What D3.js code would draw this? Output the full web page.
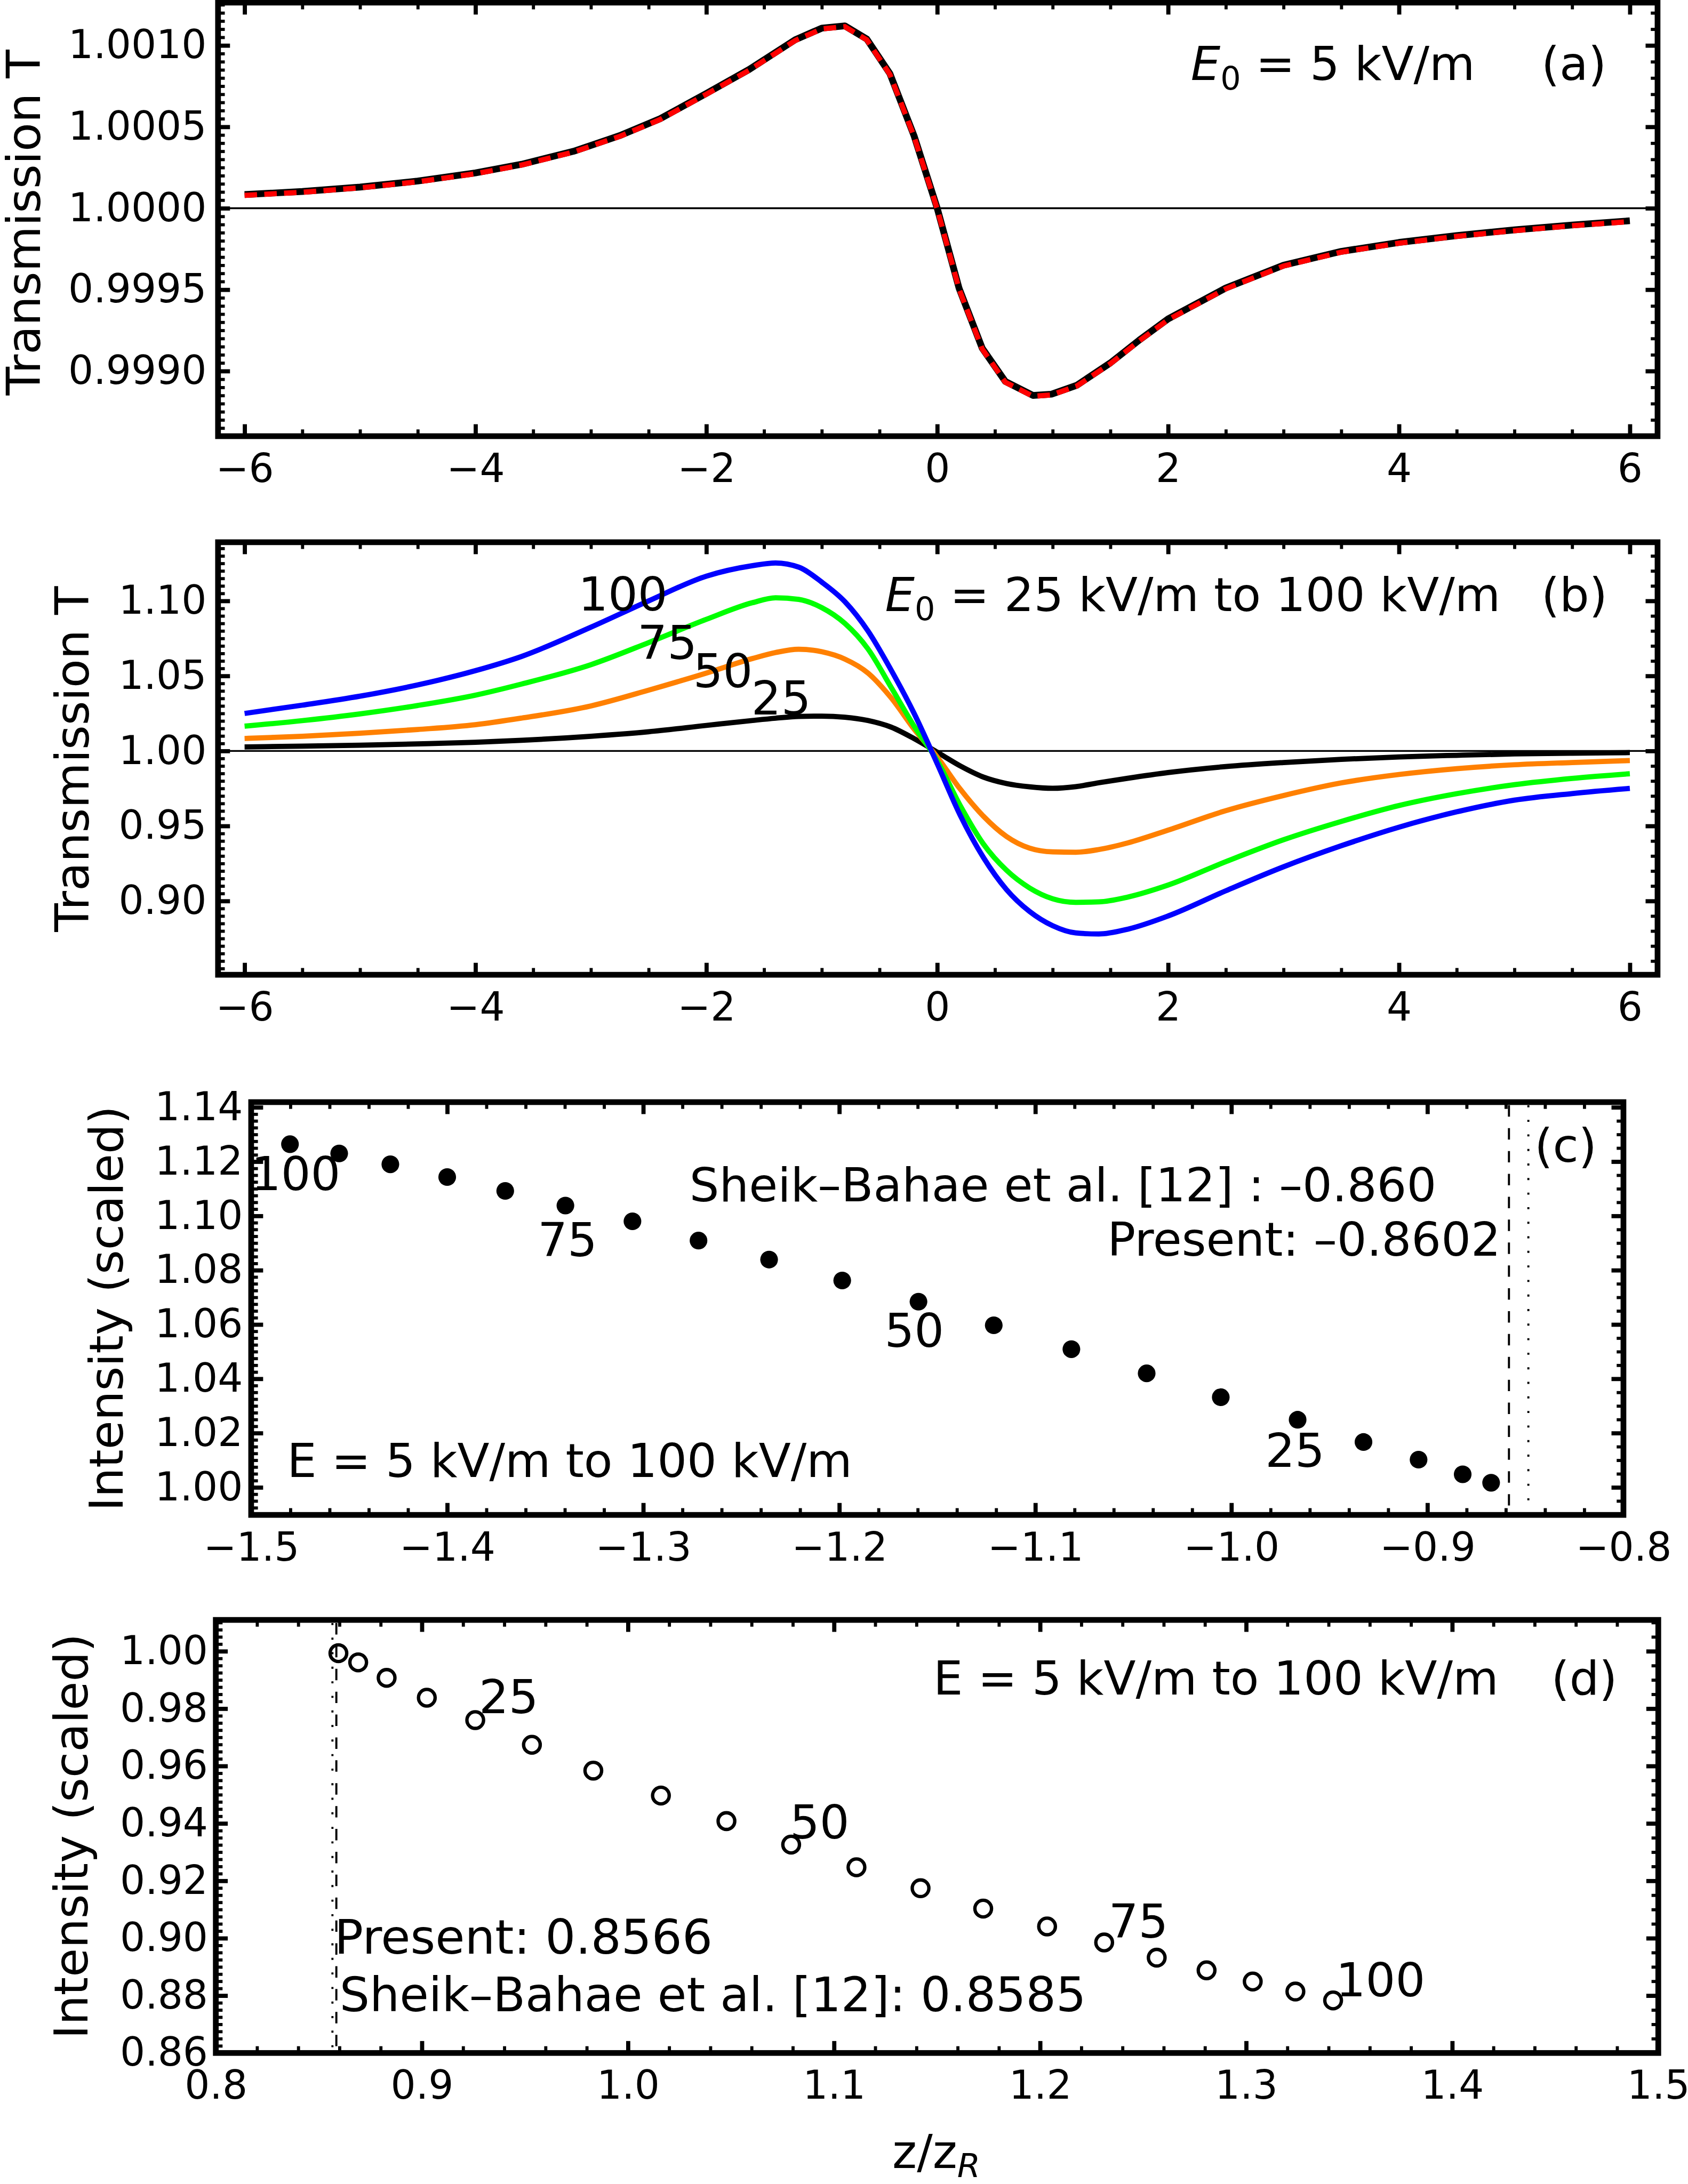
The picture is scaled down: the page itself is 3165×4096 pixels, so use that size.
<!DOCTYPE html>
<html>
<head>
<meta charset="utf-8">
<script src="https://cdn.jsdelivr.net/npm/d3@7"></script>
<style>
  body { margin: 0; background: #fff; }
  svg { display: block; }
  text { font-family: "DejaVu Sans", sans-serif; fill: #000; }
</style>
</head>
<body>
<div id="chart"></div>
<script>
// ---- data ----
// (a) E0 = 5 kV/m
var zA = [-6, -5.5, -5, -4.5, -4, -3.6, -3.15, -2.75, -2.4, -2, -1.63, -1.23, -1, -0.8, -0.61, -0.41, -0.2, 0,
          0.19, 0.39, 0.59, 0.83, 0.99, 1.21, 1.5, 1.75, 2, 2.5, 3, 3.5, 4, 4.5, 5, 5.5, 6];
var tA = [1.000084, 1.000103, 1.00013, 1.000167, 1.000217, 1.00027, 1.00035, 1.000446, 1.00055, 1.000705,
          1.000852, 1.001035, 1.001106, 1.00112, 1.001039, 1.000827, 1.000444, 1.0,
          0.999507, 0.99914, 0.998936, 0.99885, 0.998858, 0.998913, 0.99905, 0.99919, 0.99932, 0.99951,
          0.99965, 0.999735, 0.99979, 0.999832, 0.999867, 0.999897, 0.999923];

// (b) E0 = 25 .. 100 kV/m
var zB = [-6, -5.5, -5, -4.5, -4, -3.6, -3, -2.5, -2, -1.6, -1.4, -1.2, -1, -0.8, -0.6, -0.4, -0.2, 0,
          0.2, 0.4, 0.6, 0.8, 1, 1.2, 1.4, 1.65, 2, 2.5, 3, 3.5, 4, 4.5, 5, 5.5, 6];
var tB25 = [1.0027, 1.0032, 1.0038, 1.0047, 1.0058, 1.0071, 1.0098, 1.0128, 1.017, 1.0203, 1.0218, 1.023, 1.0232,
            1.0225, 1.0203, 1.0159, 1.0082, 0.9992, 0.99, 0.9826, 0.9783, 0.9761, 0.9751, 0.9762, 0.9788, 0.9818,
            0.9856, 0.9896, 0.9923, 0.9944, 0.996, 0.9971, 0.998, 0.9985, 0.9989];
var tB50 = [1.0083, 1.0098, 1.0118, 1.0143, 1.0175, 1.0219, 1.03, 1.0405, 1.0519, 1.0616, 1.0656, 1.0678, 1.0661,
            1.0612, 1.0519, 1.0355, 1.0145, 0.996, 0.9745, 0.9565, 0.943, 0.9352, 0.9327, 0.9325, 0.9343, 0.9387,
            0.9472, 0.9602, 0.9703, 0.9787, 0.9843, 0.9882, 0.9908, 0.9923, 0.9936];
var tB75 = [1.0165, 1.0202, 1.0247, 1.0303, 1.0372, 1.0446, 1.0575, 1.0722, 1.0877, 1.0988, 1.1021, 1.101, 1.0955,
            1.085, 1.068, 1.0425, 1.0165, 0.9935, 0.9635, 0.938, 0.9205, 0.9087, 0.9015, 0.8991, 0.8994, 0.9026,
            0.9106, 0.9262, 0.9408, 0.953, 0.9636, 0.9715, 0.9775, 0.9817, 0.9848];
var tB100 = [1.025, 1.0305, 1.0365, 1.044, 1.0535, 1.063, 1.0825, 1.1, 1.1165, 1.1235, 1.1253, 1.1225, 1.1125,
             1.0995, 1.08, 1.054, 1.025, 0.9915, 0.957, 0.929, 0.9076, 0.893, 0.8835, 0.8787, 0.878, 0.8812,
             0.89, 0.9068, 0.9228, 0.9368, 0.9492, 0.9594, 0.9672, 0.9716, 0.975];
var seriesB = ["25", "50", "75", "100"];
var colorsB = ["#000000", "#ff8000", "#00ff00", "#0000ff"];

// (c) peak positions
var zC = [-1.4802, -1.4551, -1.429, -1.4, -1.3704, -1.3397, -1.3055, -1.2718, -1.2358, -1.1985,
          -1.1596, -1.1212, -1.0816, -1.0432, -1.0054, -0.9662, -0.9326, -0.9045, -0.882, -0.8675];
var iC = [1.1264, 1.123, 1.119, 1.1143, 1.1092, 1.1038, 1.098, 1.0909, 1.0839, 1.0762,
          1.0684, 1.0597, 1.0509, 1.042, 1.0332, 1.0249, 1.0167, 1.0102, 1.0048, 1.0017];
var refC = [-0.8584, -0.8485];   // dashed, dotted

// (d) valley positions
var zD = [0.8595, 0.8691, 0.8829, 0.9024, 0.9259, 0.9534, 0.9832, 1.016, 1.0478, 1.0792,
          1.1109, 1.142, 1.1724, 1.2034, 1.2311, 1.2566, 1.2808, 1.3032, 1.3239, 1.3422];
var iD = [0.9993, 0.9961, 0.9907, 0.9838, 0.976, 0.9674, 0.9584, 0.9497, 0.9408, 0.9326,
          0.9247, 0.9174, 0.9103, 0.9041, 0.8985, 0.8932, 0.8888, 0.8849, 0.8814, 0.8783];
var refD = [0.8585, 0.8566];     // dashed, dotted

// tick labels
var xTicksAB = [-6, -4, -2, 0, 2, 4, 6];
var yTicksA = [0.999, 0.9995, 1.0, 1.0005, 1.001];
var yTicksB = [0.9, 0.95, 1.0, 1.05, 1.1];
var xTicksC = [-1.5, -1.4, -1.3, -1.2, -1.1, -1.0, -0.9, -0.8];
var yTicksC = [1.0, 1.02, 1.04, 1.06, 1.08, 1.1, 1.12, 1.14];
var xTicksD = [0.8, 0.9, 1.0, 1.1, 1.2, 1.3, 1.4, 1.5];
var yTicksD = [0.86, 0.88, 0.9, 0.92, 0.94, 0.96, 0.98, 1.0];

// ---- page ----
var W = 3245, H = 4200, K = 0.975;
var tickFont = 76, titleFont = 90, noteFont = 90;

var svg = d3.select("#chart")
    .append("svg")
    .attr("width", W * K)
    .attr("height", H * K)
    .attr("viewBox", "0 0 " + W + " " + H);

function minorTicks(domain, step) {
    var lo = Math.ceil(Math.min(domain[0], domain[1]) / step - 1e-6),
        hi = Math.floor(Math.max(domain[0], domain[1]) / step + 1e-6);
    return d3.range(lo, hi + 1).map(function (i) { return i * step; });
}

function styleAxis(sel) {
    sel.select(".domain").remove();
    sel.attr("font-size", tickFont).attr("font-family", "DejaVu Sans, sans-serif");
    sel.selectAll(".tick line").attr("stroke", "#000");
}

function drawPanel(p) {
    var x = d3.scaleLinear().domain(p.xDomain).range([p.left, p.right]);
    var y = d3.scaleLinear().domain(p.yDomain).range([p.bottom, p.top]);
    var g = svg.append("g");
    var blank = function () { return ""; };
    var sides = [
        { axis: d3.axisBottom, s: x, at: "translate(0," + p.bottom + ")", major: p.xTicks,
          minor: minorTicks(p.xDomain, p.xMinor), fmt: d3.format(p.xFmt), pad: 34 },
        { axis: d3.axisTop, s: x, at: "translate(0," + p.top + ")", major: p.xTicks,
          minor: minorTicks(p.xDomain, p.xMinor), fmt: blank, pad: 0 },
        { axis: d3.axisLeft, s: y, at: "translate(" + p.left + ",0)", major: p.yTicks,
          minor: minorTicks(p.yDomain, p.yMinorL), fmt: d3.format(p.yFmt), pad: p.yPad },
        { axis: d3.axisRight, s: y, at: "translate(" + p.right + ",0)", major: p.yTicks,
          minor: minorTicks(p.yDomain, p.yMinorR), fmt: blank, pad: 0 }
    ];
    sides.forEach(function (sd) {
        g.append("g").attr("transform", sd.at)
            .call(sd.axis(sd.s).tickValues(sd.minor).tickSize(-13).tickFormat(blank))
            .call(styleAxis)
            .selectAll("line").attr("stroke-width", 6);
        g.append("g").attr("transform", sd.at)
            .call(sd.axis(sd.s).tickValues(sd.major).tickSize(-23).tickPadding(sd.pad).tickFormat(sd.fmt))
            .call(styleAxis)
            .selectAll("line").attr("stroke-width", 8);
    });
    g.append("rect")
        .attr("x", p.left).attr("y", p.top)
        .attr("width", p.right - p.left).attr("height", p.bottom - p.top)
        .attr("fill", "none").attr("stroke", "#000").attr("stroke-width", 11);
    // y title
    g.append("text")
        .attr("transform", "translate(" + p.titleX + "," + p.titleY + ") rotate(-90)")
        .attr("text-anchor", "middle")
        .attr("font-size", titleFont)
        .text(p.title);
    return { g: g, x: x, y: y, p: p };
}

function note(g, x, y, str, size, anchor) {
    return g.append("text").attr("x", x).attr("y", y)
        .attr("font-size", size || noteFont)
        .attr("text-anchor", anchor || "start")
        .text(str);
}

function e0Note(g, x, y, rest) {
    var t = g.append("text").attr("x", x).attr("y", y).attr("font-size", noteFont);
    t.append("tspan").attr("font-style", "italic").text("E");
    t.append("tspan").attr("font-size", 62).attr("dy", 18).text("0");
    t.append("tspan").attr("dy", -18).text(rest);
}

function zeroLine(P) {
    P.g.insert("line", "rect")
        .attr("x1", P.p.left).attr("x2", P.p.right)
        .attr("y1", P.y(1)).attr("y2", P.y(1))
        .attr("stroke", "#000").attr("stroke-width", 3.5);
}

function refLines(P, vals) {
    var styles = ["22,22", "4,24"];
    vals.forEach(function (v, i) {
        P.g.insert("line", "rect")
            .attr("x1", P.x(v)).attr("x2", P.x(v))
            .attr("y1", P.p.top + 6).attr("y2", P.p.bottom - 6)
            .attr("stroke", "#000").attr("stroke-width", 4)
            .attr("stroke-dasharray", styles[i]);
    });
}

// ---- (a) ----
var A = drawPanel({
    left: 419.3, right: 3187.6, top: 5, bottom: 839,
    xDomain: [-6.23, 6.24], yDomain: [0.9986, 1.001263],
    xTicks: xTicksAB, xMinor: 0.5, xFmt: "d",
    yTicks: yTicksA, yMinorL: 0.00005, yMinorR: 0.0001, yFmt: ".4f", yPad: 22,
    title: "Transmission T", titleX: 77, titleY: 428
});
zeroLine(A);
var lineA = d3.line()
    .x(function (d) { return A.x(d[0]); })
    .y(function (d) { return A.y(d[1]); });
var ptsA = zA.map(function (z, i) { return [z, tA[i]]; });
A.g.insert("path", "rect").datum(ptsA)
    .attr("fill", "none").attr("stroke", "#000").attr("stroke-width", 13)
    .attr("stroke-linejoin", "round").attr("d", lineA);
A.g.insert("path", "rect").datum(ptsA)
    .attr("fill", "none").attr("stroke", "#ff0000").attr("stroke-width", 10)
    .attr("stroke-dasharray", "24,14").attr("transform", "translate(0,1.5)").attr("d", lineA);
e0Note(A.g, 2290, 154, " = 5 kV/m");
note(A.g, 2964, 154, "(a)");

// ---- (b) ----
var B = drawPanel({
    left: 419.3, right: 3187.6, top: 1043, bottom: 1875,
    xDomain: [-6.23, 6.24], yDomain: [0.85083, 1.1391],
    xTicks: xTicksAB, xMinor: 0.5, xFmt: "d",
    yTicks: yTicksB, yMinorL: 0.005, yMinorR: 0.01, yFmt: ".2f", yPad: 22,
    title: "Transmission T", titleX: 170, titleY: 1460
});
zeroLine(B);
var lineB = d3.line()
    .x(function (d) { return B.x(d[0]); })
    .y(function (d) { return B.y(d[1]); })
    .curve(d3.curveMonotoneX);
[tB25, tB50, tB75, tB100].forEach(function (vals, k) {
    B.g.insert("path", "rect")
        .datum(zB.map(function (z, i) { return [z, vals[i]]; }))
        .attr("fill", "none").attr("stroke", colorsB[k]).attr("stroke-width", 10)
        .attr("stroke-linejoin", "round").attr("d", lineB);
});
var labPosB = [[1445, 1374], [1333, 1322], [1226, 1268], [1112, 1174]];
seriesB.forEach(function (s, k) { note(B.g, labPosB[k][0], labPosB[k][1], s, titleFont); });
e0Note(B.g, 1702, 1175, " = 25 kV/m to 100 kV/m");
note(B.g, 2964, 1175, "(b)");

// ---- (c) ----
var C = drawPanel({
    left: 483, right: 3122, top: 2120, bottom: 2914,
    xDomain: [-1.5, -0.8], yDomain: [0.98985, 1.1419],
    xTicks: xTicksC, xMinor: 0.02, xFmt: ".1f",
    yTicks: yTicksC, yMinorL: 0.0025, yMinorR: 0.005, yFmt: ".2f", yPad: 16,
    title: "Intensity (scaled)", titleX: 236, titleY: 2517
});
refLines(C, refC);
C.g.insert("g", "rect").selectAll("circle")
    .data(zC.map(function (z, i) { return [z, iC[i]]; }))
    .enter().append("circle")
    .attr("cx", function (d) { return C.x(d[0]); })
    .attr("cy", function (d) { return C.y(d[1]); })
    .attr("r", 17).attr("fill", "#000");
var labPosC = [[2433, 2822], [1701, 2591], [1034, 2416], [483, 2289]];
seriesB.forEach(function (s, k) { note(C.g, labPosC[k][0], labPosC[k][1], s, titleFont); });
note(C.g, 1326, 2311, "Sheik\u2013Bahae et al. [12] : \u20130.860");
note(C.g, 2886, 2415, "Present: \u20130.8602", noteFont, "end");
note(C.g, 2951, 2235, "(c)");
note(C.g, 552, 2841, "E = 5 kV/m to 100 kV/m");

// ---- (d) ----
var D = drawPanel({
    left: 415, right: 3189, top: 3116, bottom: 3949,
    xDomain: [0.8, 1.5], yDomain: [0.86, 1.0109],
    xTicks: xTicksD, xMinor: 0.02, xFmt: ".1f",
    yTicks: yTicksD, yMinorL: 0.0025, yMinorR: 0.005, yFmt: ".2f", yPad: 15,
    title: "Intensity (scaled)", titleX: 168, titleY: 3532
});
refLines(D, refD);
D.g.insert("g", "rect").selectAll("circle")
    .data(zD.map(function (z, i) { return [z, iD[i]]; }))
    .enter().append("circle")
    .attr("cx", function (d) { return D.x(d[0]); })
    .attr("cy", function (d) { return D.y(d[1]); })
    .attr("r", 16).attr("fill", "none").attr("stroke", "#000").attr("stroke-width", 6.5);
var labPosD = [[921, 3295], [1519, 3536], [2132, 3727], [2569, 3840]];
seriesB.forEach(function (s, k) { note(D.g, labPosD[k][0], labPosD[k][1], s, titleFont); });
note(D.g, 1795, 3260, "E = 5 kV/m to 100 kV/m");
note(D.g, 2983, 3260, "(d)");
note(D.g, 643, 3758, "Present: 0.8566", 92);
note(D.g, 653, 3869, "Sheik\u2013Bahae et al. [12]: 0.8585", 91);

// x title
var xt = svg.append("text").attr("x", 1716).attr("y", 4170).attr("font-size", titleFont);
xt.append("tspan").text("z/z");
xt.append("tspan").attr("font-style", "italic").attr("font-size", 64).attr("dy", 18).text("R");
</script>
</body>
</html>
